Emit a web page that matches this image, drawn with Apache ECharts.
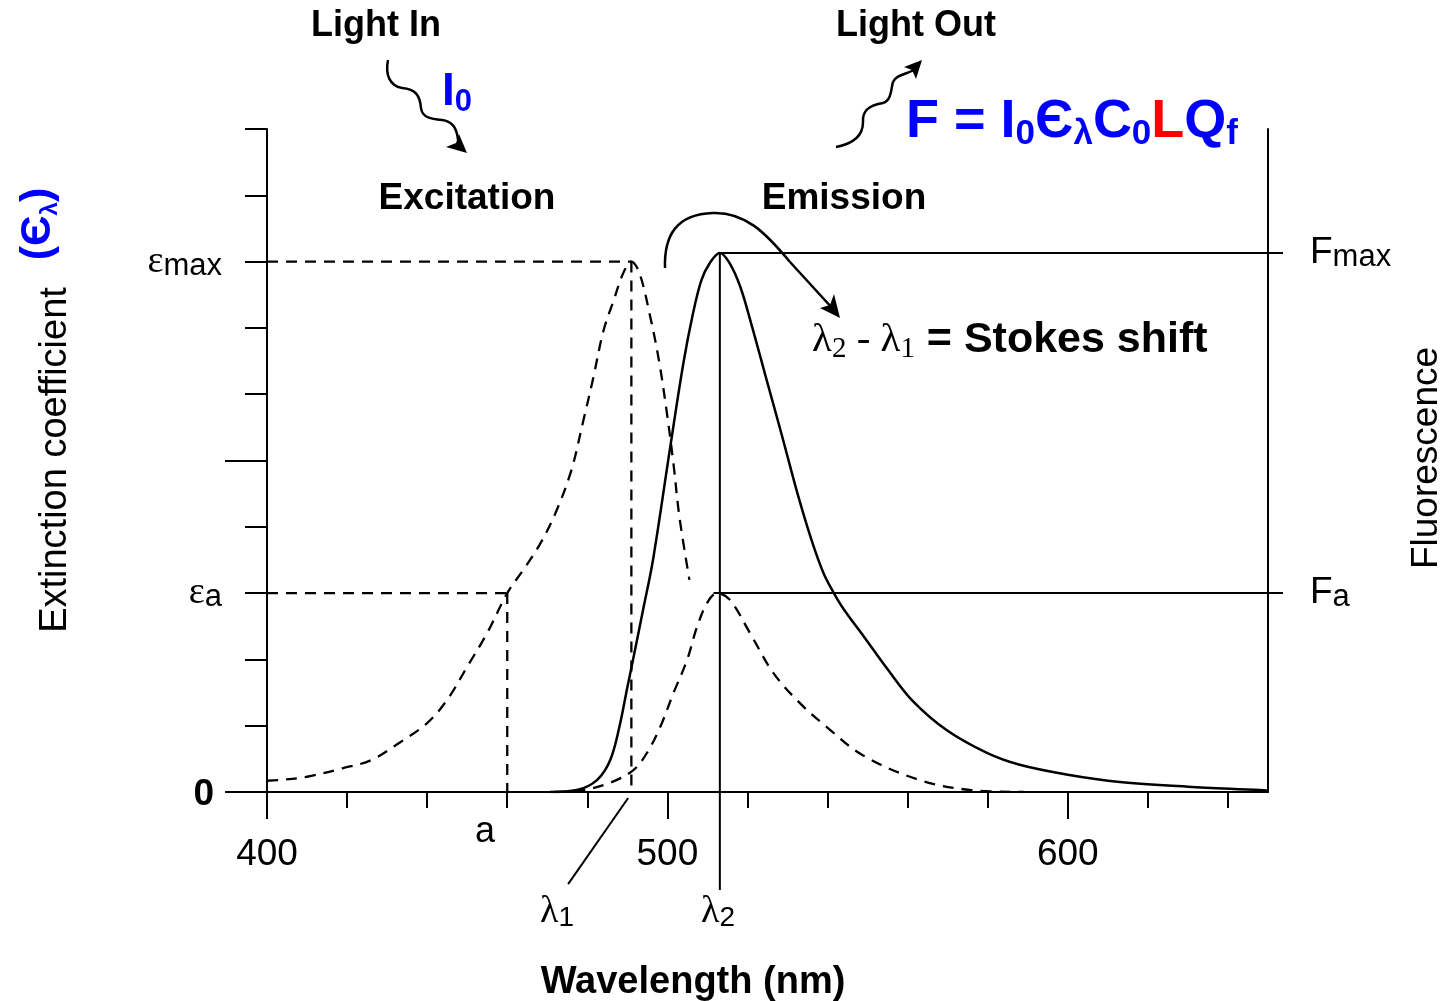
<!DOCTYPE html>
<html>
<head>
<meta charset="utf-8">
<title>Excitation / Emission - Stokes shift</title>
<script src="https://cdn.jsdelivr.net/npm/echarts@6.0.0/dist/echarts.min.js"></script>
<style>
  html, body { margin: 0; padding: 0; background: #fff; }
  #mybox { width: 1453px; height: 1001px; }
</style>
</head>
<body>
<div id="mybox"></div>
<script>
// excitation spectrum (dashed)
var excNm  = [400, 403, 410, 419, 426, 433, 440, 445, 450, 455, 460, 464, 468, 472, 476, 479, 481.5, 484, 486.5, 489, 491, 493, 495.6, 498, 500, 501.5, 503, 505.5];
var excVal = [0.17, 0.18, 0.23, 0.36, 0.48, 0.74, 1.04, 1.39, 1.89, 2.4, 3.0, 3.35, 3.72, 4.2, 4.85, 5.6, 6.25, 6.95, 7.4, 7.83, 8.0, 7.83, 7.2, 6.47, 5.66, 4.96, 4.15, 3.2];

// emission spectrum (solid)
var emNm  = [470.7, 477.4, 482.4, 485.7, 488, 490, 491.4, 494, 496.4, 500.7, 504, 506.4, 508.5, 510.6, 513.1, 515.5, 518.2, 521, 524.4, 528.5, 532.5, 536, 539, 541.4, 544, 549, 555, 561.3, 569.8, 579.8, 588, 600, 613, 630, 648, 650];
var emVal = [0, 0.03, 0.18, 0.48, 0.98, 1.58, 1.99, 2.77, 3.5, 5.2, 6.47, 7.22, 7.72, 7.98, 8.13, 7.98, 7.62, 7.05, 6.3, 5.4, 4.5, 3.8, 3.3, 3.02, 2.76, 2.35, 1.85, 1.37, 0.93, 0.59, 0.41, 0.26, 0.15, 0.08, 0.03, 0.02];

// emission when excited at "a" (dashed, lower)
var emANm  = [472, 479, 485.7, 491.5, 494.9, 498.2, 501.5, 504.9, 507.4, 509.9, 512.4, 515.6, 520.6, 526.4, 533.1, 539.8, 548.9, 563, 575.6, 589];
var emAVal = [0, 0.03, 0.14, 0.33, 0.59, 0.98, 1.49, 1.99, 2.49, 2.85, 3.0, 2.9, 2.4, 1.8, 1.34, 0.98, 0.55, 0.18, 0.03, 0];

// marked levels / wavelengths
var lambda1 = 491, lambda2 = 513.1, aNm = 460;
var epsMax = 8, epsA = 3, fMax = 8.13, fA = 3;
var lineEnd = 650;
var lambda2Foot = -1.48;    // lambda2 drop line goes below the axis
var leader1 = [[475.2, -1.39], [490.2, -0.09]];   // pointer from the lambda1 label

var xMajor = [400, 500, 600];
var xMinor = [420, 440, 460, 480, 520, 540, 560, 580, 620, 640];

var sans = 'Liberation Sans, Arial, Helvetica, sans-serif';
var serif = 'Liberation Serif, Times New Roman, serif';
var dash = [11, 8];

function zip(a, b) {
    return a.map(function (v, i) { return [v, b[i]]; });
}

function guide(data, dashed) {
    return {
        type: 'line', data: data, showSymbol: false, clip: false, silent: true,
        lineStyle: { color: '#000', width: dashed ? 2.3 : 2, type: dashed ? dash : 'solid' }
    };
}

// cubic pieces of the hand-drawn arrows: [x1,y1, cpx1,cpy1, cpx2,cpy2, x2,y2]
function bez(p) {
    return {
        type: 'bezierCurve',
        shape: { x1: p[0], y1: p[1], cpx1: p[2], cpy1: p[3], cpx2: p[4], cpy2: p[5], x2: p[6], y2: p[7] },
        style: { stroke: '#000', lineWidth: 2.5, fill: null }
    };
}

function txt(text, x, y, size, bold) {
    return { type: 'text', x: x, y: y, style: { text: text, fontSize: size, fontWeight: bold ? 'bold' : 'normal', fontFamily: sans, fill: '#000', textAlign: 'center', textVerticalAlign: 'middle' } };
}

var mycharts = echarts.init(document.getElementById('mybox'));

var optionObj = {
    animation: false,
    grid: { left: 267, right: 185, top: 129, bottom: 209, outerBoundsMode: 'none' },
    xAxis: [
        {
            type: 'value', min: 400, max: 650, position: 'bottom',
            axisLine: { lineStyle: { color: '#000', width: 2 } },
            axisTick: { customValues: xMajor, length: 27, lineStyle: { color: '#000', width: 2 } },
            axisLabel: { customValues: xMajor, margin: 44, color: '#000', fontSize: 37, fontFamily: sans },
            splitLine: { show: false }
        },
        {
            type: 'value', min: 400, max: 650, position: 'bottom',
            axisLine: { show: false },
            axisTick: { customValues: xMinor, length: 16, lineStyle: { color: '#000', width: 2 } },
            axisLabel: { show: false },
            splitLine: { show: false }
        }
    ],
    yAxis: [
        {
            type: 'value', min: 0, max: 10, interval: 1, position: 'left',
            axisLine: { show: true, lineStyle: { color: '#000', width: 2 } },
            axisTick: { show: true, length: 22, lineStyle: { color: '#000', width: 2 } },
            axisLabel: {
                customValues: [0, epsA, epsMax], margin: 45,
                formatter: function (v) {
                    if (v === 0) return '{z|0}';
                    if (v === epsMax) return '{e|\u03b5}{s|max}';
                    return '{e|\u03b5}{s|a}';
                },
                rich: {
                    z: { fontSize: 37, fontWeight: 'bold', color: '#000', fontFamily: sans, padding: [6, 8, 0, 0] },
                    e: { fontSize: 38, color: '#000', fontFamily: serif, lineHeight: 40 },
                    s: { fontSize: 31, color: '#000', fontFamily: sans, lineHeight: 28, verticalAlign: 'bottom' }
                }
            },
            splitLine: { show: false }
        },
        {
            type: 'value', min: 0, max: 10, position: 'left',
            axisLine: { show: false },
            axisTick: { show: true, customValues: [0, 5], length: 42, lineStyle: { color: '#000', width: 2 } },
            axisLabel: { show: false },
            splitLine: { show: false }
        },
        {
            type: 'value', min: 0, max: 10, position: 'right',
            axisLine: { show: true, lineStyle: { color: '#000', width: 2 } },
            // the F levels cross the axis and stick out a little
            axisTick: { show: true, customValues: [fA, fMax], length: 15, lineStyle: { color: '#000', width: 2 } },
            axisLabel: {
                customValues: [fA, fMax], margin: 42,
                formatter: function (v) {
                    return v === fMax ? '{f|F}{s|max}' : '{f|F}{s|a}';
                },
                rich: {
                    f: { fontSize: 37, color: '#000', fontFamily: sans, lineHeight: 40 },
                    s: { fontSize: 31, color: '#000', fontFamily: sans, lineHeight: 28, verticalAlign: 'bottom' }
                }
            },
            splitLine: { show: false }
        }
    ],
    series: [
        {
            name: 'Excitation', type: 'line', data: zip(excNm, excVal), smooth: 0.35,
            showSymbol: false, silent: true, z: 3,
            lineStyle: { color: '#000', width: 2.3, type: dash }
        },
        {
            name: 'Emission', type: 'line', data: zip(emNm, emVal), smooth: 0.35,
            showSymbol: false, silent: true, z: 3,
            lineStyle: { color: '#000', width: 2.5 }
        },
        {
            name: 'Emission at a', type: 'line', data: zip(emANm, emAVal), smooth: 0.35,
            showSymbol: false, silent: true, z: 3,
            lineStyle: { color: '#000', width: 2.3, type: dash }
        },
        guide([[400, epsMax], [lambda1, epsMax]], true),
        guide([[lambda1, epsMax], [lambda1, 0]], true),
        guide([[400, epsA], [aNm, epsA]], true),
        guide([[aNm, epsA], [aNm, 0]], true),
        guide([[lambda2, fMax], [lineEnd, fMax]], false),
        guide([[511.5, fA], [lineEnd, fA]], false),
        guide([[lambda2, fMax], [lambda2, lambda2Foot]], false),
        guide(leader1, false)
    ],
    graphic: [
        // headings
        txt('Light In', 376, 26, 36, true),
        txt('Light Out', 916, 26, 36, true),
        txt('Excitation', 467, 199, 37, true),
        txt('Emission', 844, 199, 37, true),
        txt('Wavelength (nm)', 693, 983, 38, true),
        txt('a', 485, 832, 36, false),
        // lambda labels under the axis
        { type: 'text', x: 557, y: 912, style: {
            text: '{l|\u03bb}{s|1}', textAlign: 'center', textVerticalAlign: 'middle',
            rich: { l: { fontSize: 38, fontFamily: serif, fill: '#000', lineHeight: 40 }, s: { fontSize: 28, fontFamily: sans, fill: '#000', lineHeight: 26, verticalAlign: 'bottom' } } } },
        { type: 'text', x: 718, y: 912, style: {
            text: '{l|\u03bb}{s|2}', textAlign: 'center', textVerticalAlign: 'middle',
            rich: { l: { fontSize: 38, fontFamily: serif, fill: '#000', lineHeight: 40 }, s: { fontSize: 28, fontFamily: sans, fill: '#000', lineHeight: 26, verticalAlign: 'bottom' } } } },
        // axis titles
        { type: 'text', x: 56, y: 460, rotation: Math.PI / 2, style: { text: 'Extinction coefficient', fontSize: 38, fontFamily: sans, fill: '#000', textAlign: 'center', textVerticalAlign: 'middle' } },
        { type: 'text', x: 38, y: 224, rotation: Math.PI / 2, style: {
            text: '{p|(\u0404}{s|\u03bb}{p|)}', textAlign: 'center', textVerticalAlign: 'middle',
            rich: { p: { fontSize: 43, fontWeight: 'bold', fontFamily: sans, fill: '#0000ff', lineHeight: 48 }, s: { fontSize: 24, fontWeight: 'bold', fontFamily: sans, fill: '#0000ff', lineHeight: 18, verticalAlign: 'bottom' } } } },
        { type: 'text', x: 1427, y: 458, rotation: Math.PI / 2, style: { text: 'Fluorescence', fontSize: 37, fontFamily: sans, fill: '#000', textAlign: 'center', textVerticalAlign: 'middle' } },
        // I0
        { type: 'text', x: 442, y: 92, style: {
            text: '{m|I}{s|0}', textAlign: 'left', textVerticalAlign: 'middle',
            rich: { m: { fontSize: 46, fontWeight: 'bold', fontFamily: sans, fill: '#0000ff', lineHeight: 52 }, s: { fontSize: 31, fontWeight: 'bold', fontFamily: sans, fill: '#0000ff', lineHeight: 20, verticalAlign: 'bottom' } } } },
        // formula
        { type: 'text', x: 906, y: 122, style: {
            text: '{m|F = I}{s|0}{m|\u0404}{s|\u03bb}{m|C}{s|0}{r|L}{m|Q}{s|f}', textAlign: 'left', textVerticalAlign: 'middle',
            rich: {
                m: { fontSize: 54, fontWeight: 'bold', fontFamily: sans, fill: '#0000ff', lineHeight: 60 },
                r: { fontSize: 54, fontWeight: 'bold', fontFamily: sans, fill: '#ff0000', lineHeight: 60 },
                s: { fontSize: 35, fontWeight: 'bold', fontFamily: sans, fill: '#0000ff', lineHeight: 22, verticalAlign: 'bottom' }
            } } },
        // Stokes shift
        { type: 'text', x: 812, y: 340, style: {
            text: '{l|\u03bb}{n|2}{l| - \u03bb}{n|1}{b| = Stokes shift}', textAlign: 'left', textVerticalAlign: 'middle',
            rich: {
                l: { fontSize: 41, fontFamily: serif, fill: '#000', lineHeight: 48 },
                n: { fontSize: 29, fontFamily: serif, fill: '#000', lineHeight: 24, verticalAlign: 'bottom' },
                b: { fontSize: 43, fontWeight: 'bold', fontFamily: sans, fill: '#000', lineHeight: 48 }
            } } },
        // wavy arrow: light in
        bez([388, 60, 385, 75, 390, 86, 402, 88]),
        bez([402, 88, 416, 89, 420, 96, 421, 108]),
        bez([421, 108, 422, 118, 432, 119, 442, 120]),
        bez([442, 120, 452, 121, 457, 128, 458, 140]),
        { type: 'polygon', shape: { points: [[467, 153], [446, 147], [456, 143], [459, 134]] }, style: { fill: '#000' } },
        // wavy arrow: light out
        bez([836, 147, 852, 144, 863, 137, 863, 122]),
        bez([863, 122, 862, 110, 870, 105, 883, 103]),
        bez([883, 103, 892, 100, 891, 88, 893, 82]),
        bez([893, 82, 896, 75, 904, 75, 914, 70]),
        { type: 'polygon', shape: { points: [[922, 60], [904, 67], [912, 70], [916, 79]] }, style: { fill: '#000' } },
        // curved arrow from excitation peak to the Stokes label
        bez([665, 268, 664, 236, 676, 214, 713, 213]),
        bez([713, 213, 745, 212, 765, 232, 790, 262]),
        { type: 'line', shape: { x1: 790, y1: 262, x2: 833, y2: 309 }, style: { stroke: '#000', lineWidth: 2.5 } },
        { type: 'polygon', shape: { points: [[840, 318], [820, 308], [830, 305], [834, 294]] }, style: { fill: '#000' } }
    ]
};

mycharts.setOption(optionObj);
</script>
</body>
</html>
